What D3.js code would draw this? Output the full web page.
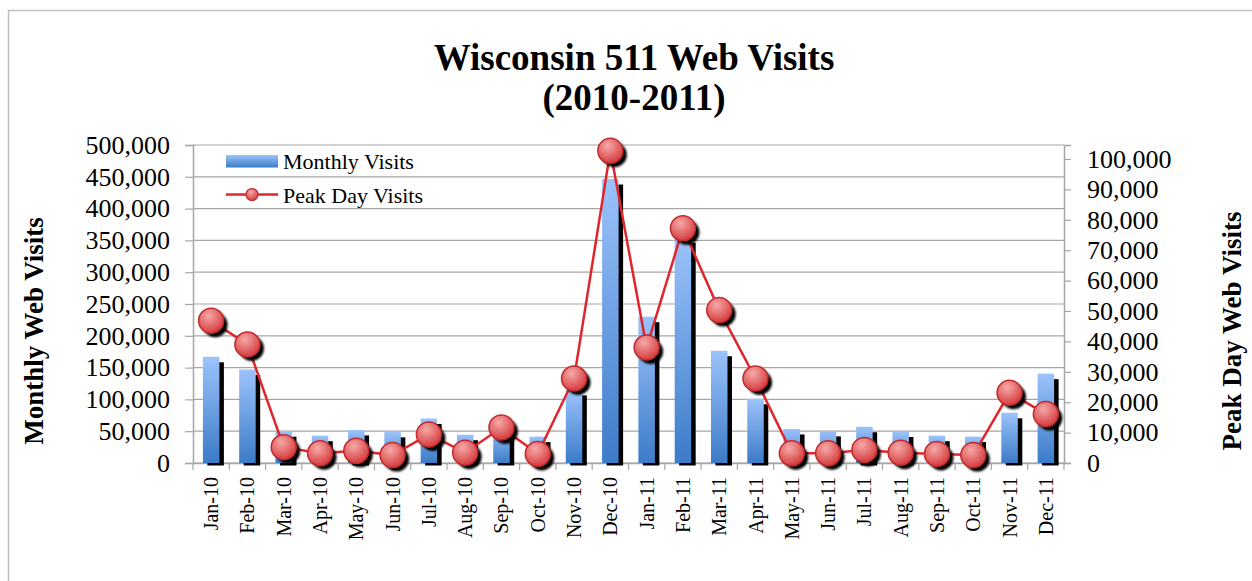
<!DOCTYPE html>
<html lang="en">
<head>
  <meta charset="UTF-8" />
  <title>Wisconsin 511 Web Visits</title>
  <style>
    html, body { margin: 0; padding: 0; background: #fff; }
    svg { display: block; font-family: "Liberation Serif", "Times New Roman", serif; }
  </style>
</head>
<body>
  <script src="https://d3js.org/d3.v7.min.js"></script>
  <script>
    const months = ["Jan-10", "Feb-10", "Mar-10", "Apr-10", "May-10", "Jun-10", "Jul-10", "Aug-10",
      "Sep-10", "Oct-10", "Nov-10", "Dec-10", "Jan-11", "Feb-11", "Mar-11", "Apr-11", "May-11",
      "Jun-11", "Jul-11", "Aug-11", "Sep-11", "Oct-11", "Nov-11", "Dec-11"];
    const monthlyVisits = [167000, 147000, 50000, 43000, 52000, 49000, 70000, 44500, 55000, 41500,
      115000, 446500, 230000, 355000, 176500, 101000, 53500, 50500, 57000, 49500, 43000, 41500,
      79000, 140500];
    const peakDayVisits = [46800, 39000, 5200, 3200, 4000, 2600, 9400, 3400, 11700, 3000, 27800,
      102700, 38000, 77200, 50300, 27800, 3200, 3200, 4300, 3400, 3000, 2600, 23100, 16100];
    const leftTicks = d3.range(0, 500001, 50000);
    const rightTicks = d3.range(0, 100001, 10000);

    const width = 1252, height = 581;
    const plot = { left: 193, right: 1064, top: 145, bottom: 463 };

    const svg = d3.select("body").append("svg").attr("width", width).attr("height", height);

    const defs = svg.append("defs");
    const barGrad = defs.append("linearGradient").attr("id", "barGrad")
      .attr("x1", 0).attr("y1", 0).attr("x2", 0).attr("y2", 1);
    barGrad.append("stop").attr("offset", "0%").attr("stop-color", "#9cc3fb");
    barGrad.append("stop").attr("offset", "100%").attr("stop-color", "#3c7bc8");

    const dotGrad = defs.append("radialGradient").attr("id", "dotGrad")
      .attr("cx", "40%").attr("cy", "30%").attr("r", "70%");
    dotGrad.append("stop").attr("offset", "0%").attr("stop-color", "#f6a9a8");
    dotGrad.append("stop").attr("offset", "100%").attr("stop-color", "#d63c3e");

    const blur = defs.append("filter").attr("id", "soft");
    blur.append("feGaussianBlur").attr("stdDeviation", 1);

    // outer frame
    svg.append("rect").attr("x", 8.5).attr("y", 10.5).attr("width", 1300).attr("height", 700)
      .attr("fill", "none").attr("stroke", "#bfbfbf").attr("stroke-width", 1.5);

    const x = d3.scaleBand().domain(months).range([plot.left, plot.right]).padding(0);
    const yL = d3.scaleLinear().domain([0, 500000]).range([plot.bottom, plot.top]);
    const yR = d3.scaleLinear().domain([0, 104600]).range([plot.bottom, plot.top]);

    // gridlines
    svg.append("g").selectAll("line").data(leftTicks).join("line")
      .attr("x1", plot.left).attr("x2", plot.right)
      .attr("y1", d => yL(d)).attr("y2", d => yL(d))
      .attr("stroke", "#a6a6a6").attr("stroke-width", 1.2);

    // axes
    const fmt = d3.format(",");
    const gLeft = svg.append("g").attr("transform", `translate(${plot.left},0)`)
      .call(d3.axisLeft(yL).tickValues(leftTicks).tickFormat(fmt).tickSize(8).tickPadding(15));
    const gRight = svg.append("g").attr("transform", `translate(${plot.right},0)`)
      .call(d3.axisRight(yR).tickValues(rightTicks).tickFormat(fmt).tickSize(7).tickPadding(16));
    const gBottom = svg.append("g").attr("transform", `translate(0,${plot.bottom})`)
      .call(d3.axisBottom(x).tickSize(0).tickFormat(""));

    [gLeft, gRight].forEach(g => {
      g.select(".domain").attr("stroke", "#a6a6a6").attr("stroke-width", 1.5);
      g.selectAll(".tick line").attr("stroke", "#a6a6a6").attr("stroke-width", 1.2);
      g.selectAll("text").attr("font-family", "Liberation Serif").attr("font-size", 26)
        .attr("fill", "#000");
    });
    gBottom.select(".domain").attr("stroke", "#a6a6a6").attr("stroke-width", 1.5);

    // category tick marks between bands
    svg.append("g").selectAll("line").data(d3.range(months.length + 1)).join("line")
      .attr("x1", i => plot.left + i * x.bandwidth()).attr("x2", i => plot.left + i * x.bandwidth())
      .attr("y1", plot.bottom).attr("y2", plot.bottom + 7)
      .attr("stroke", "#a6a6a6").attr("stroke-width", 1.2);

    // category labels
    svg.append("g").selectAll("text").data(months).join("text")
      .attr("transform", d => `translate(${x(d) + x.bandwidth() / 2},477) rotate(-90)`)
      .attr("dy", "0.35em").attr("text-anchor", "end")
      .attr("font-size", 20).text(d => d);

    // bars
    const barW = 16.5;
    const bars = svg.append("g");
    bars.selectAll("rect.shadow").data(monthlyVisits).join("rect").attr("class", "shadow")
      .attr("x", (d, i) => x(months[i]) + (x.bandwidth() - barW) / 2 + 4.5)
      .attr("y", d => yL(d) + 5.5)
      .attr("width", barW)
      .attr("height", d => plot.bottom + 1.5 - yL(d) - 5.5 + 1)
      .attr("fill", "#000");
    bars.selectAll("rect.bar").data(monthlyVisits).join("rect").attr("class", "bar")
      .attr("x", (d, i) => x(months[i]) + (x.bandwidth() - barW) / 2)
      .attr("y", d => yL(d))
      .attr("width", barW)
      .attr("height", d => plot.bottom - yL(d))
      .attr("fill", "url(#barGrad)");

    // peak day line
    const cx = i => x(months[i]) + x.bandwidth() / 2;
    const line = d3.line().x((d, i) => cx(i)).y(d => yR(d));
    svg.append("path").datum(peakDayVisits).attr("d", line)
      .attr("fill", "none").attr("stroke", "#e0262c").attr("stroke-width", 2.5);

    const dots = svg.append("g");
    peakDayVisits.forEach((d, i) => {
      dots.append("circle").attr("cx", cx(i) + 4).attr("cy", yR(d) + 4).attr("r", 12.5)
        .attr("fill", "#000").attr("filter", "url(#soft)");
      dots.append("circle").attr("cx", cx(i)).attr("cy", yR(d)).attr("r", 12.5)
        .attr("fill", "url(#dotGrad)").attr("stroke", "#bf2a2d").attr("stroke-width", 1.5);
    });

    // legend
    const lg = svg.append("g");
    lg.append("rect").attr("x", 226).attr("y", 155).attr("width", 52).attr("height", 12.5)
      .attr("fill", "url(#barGrad)");
    lg.append("text").attr("x", 283).attr("y", 169).attr("font-size", 22).text("Monthly Visits");
    lg.append("line").attr("x1", 226).attr("x2", 278).attr("y1", 194.5).attr("y2", 194.5)
      .attr("stroke", "#e0262c").attr("stroke-width", 2.5);
    lg.append("circle").attr("cx", 252).attr("cy", 194.5).attr("r", 6)
      .attr("fill", "url(#dotGrad)").attr("stroke", "#bf2a2d").attr("stroke-width", 1.2);
    lg.append("text").attr("x", 283).attr("y", 203).attr("font-size", 22).text("Peak Day Visits");

    // titles
    svg.append("text").attr("x", 634).attr("y", 70).attr("text-anchor", "middle")
      .attr("font-size", 37).attr("font-weight", "bold").text("Wisconsin 511 Web Visits");
    svg.append("text").attr("x", 634).attr("y", 110).attr("text-anchor", "middle")
      .attr("font-size", 37).attr("font-weight", "bold").text("(2010-2011)");

    svg.append("text").attr("transform", "translate(43,331) rotate(-90)")
      .attr("text-anchor", "middle").attr("font-size", 27).attr("font-weight", "bold")
      .text("Monthly Web Visits");
    svg.append("text").attr("transform", "translate(1241,331) rotate(-90)")
      .attr("text-anchor", "middle").attr("font-size", 27).attr("font-weight", "bold")
      .text("Peak Day Web Visits");
  </script>
</body>
</html>
